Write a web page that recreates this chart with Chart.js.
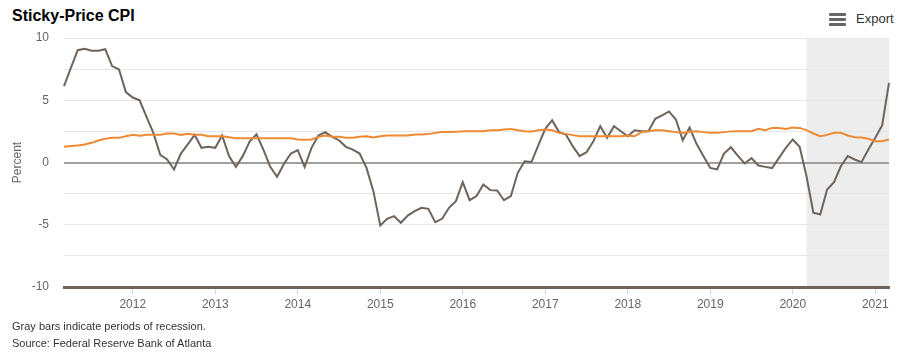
<!DOCTYPE html>
<html>
<head>
<meta charset="utf-8">
<script src="https://cdn.jsdelivr.net/npm/chart.js@4.4.1/dist/chart.umd.min.js"></script>
<style>
html,body{margin:0;padding:0;background:#fff;width:901px;height:357px;overflow:hidden;font-family:"Liberation Sans",Arial,sans-serif;}
#title{position:absolute;left:12px;top:8px;font-size:16px;line-height:16px;font-weight:bold;color:#000;white-space:nowrap;}
#export{position:absolute;left:829px;top:12px;height:14px;width:70px;}
#export .bar{position:absolute;left:0;width:17px;height:3px;background:#666;border-radius:1px;}
#export span{position:absolute;left:27px;top:0px;font-size:13px;line-height:14px;color:#333;}
#wrap{position:absolute;left:0;top:0;width:901px;height:320px;}
#foot{position:absolute;left:12px;top:318px;font-size:11px;line-height:17px;color:#333;white-space:nowrap;}
</style>
</head>
<body>
<div id="title">Sticky-Price CPI</div>
<div id="export"><div class="bar" style="top:1px"></div><div class="bar" style="top:6px"></div><div class="bar" style="top:11px"></div><span>Export</span></div>
<div id="wrap"><canvas id="c" width="901" height="320"></canvas></div>
<div id="foot">Gray bars indicate periods of recession.<br>Source: Federal Reserve Bank of Atlanta</div>
<script>
// Monthly categories, March 2011 through March 2021
const startYear = 2011, startMonth = 3, monthCount = 121;
const months = [];
for (let i = 0; i < monthCount; i++) {
  const m = startMonth - 1 + i;
  const y = startYear + Math.floor(m / 12);
  const mm = (m % 12) + 1;
  months.push(y + '-' + (mm < 10 ? '0' : '') + mm);
}

// Flexible-price CPI (dark line), percent
const flexible = [
  6.13, 7.6, 9.02, 9.13, 8.97, 8.97, 9.1, 7.74, 7.47, 5.65,
  5.22, 5.0, 3.67, 2.38, 0.62, 0.24, -0.56, 0.72, 1.45, 2.22,
  1.18, 1.26, 1.18, 2.17, 0.51, -0.35, 0.51, 1.69, 2.27, 1.04,
  -0.35, -1.15, -0.1, 0.72, 1.0, -0.36, 1.18, 2.17, 2.44, 2.06,
  1.79, 1.26, 1.04, 0.72, -0.43, -2.3, -5.06, -4.52, -4.31, -4.84,
  -4.26, -3.91, -3.64, -3.72, -4.79, -4.52, -3.64, -3.1, -1.58, -3.03,
  -2.7, -1.77, -2.22, -2.25, -3.03, -2.7, -0.83, 0.1, 0.04, 1.4,
  2.7, 3.4, 2.44, 2.25, 1.31, 0.51, 0.83, 1.71, 2.92, 1.98,
  2.92, 2.51, 2.11, 2.59, 2.51, 2.51, 3.51, 3.78, 4.1, 3.45,
  1.79, 2.8, 1.5, 0.53, -0.44, -0.56, 0.72, 1.22, 0.56, -0.08,
  0.35, -0.24, -0.35, -0.45, 0.37, 1.18, 1.85, 1.26, -1.1, -4.04,
  -4.18, -2.17, -1.58, -0.3, 0.51, 0.24, 0.03, 1.04, 1.98, 2.97,
  6.4
];

// Sticky-price CPI (orange line), percent
const sticky = [
  1.26, 1.33, 1.37, 1.45, 1.58, 1.77, 1.9, 1.98, 1.98, 2.11,
  2.22, 2.14, 2.22, 2.22, 2.22, 2.33, 2.33, 2.22, 2.3, 2.22,
  2.22, 2.11, 2.11, 2.11, 2.03, 1.95, 1.95, 1.95, 1.95, 1.95,
  1.95, 1.95, 1.95, 1.95, 1.84, 1.83, 1.85, 2.06, 2.17, 2.06,
  2.06, 1.98, 1.98, 2.06, 2.11, 2.01, 2.11, 2.17, 2.17, 2.17,
  2.17, 2.25, 2.25, 2.28, 2.38, 2.44, 2.44, 2.46, 2.51, 2.51,
  2.51, 2.51, 2.59, 2.59, 2.65, 2.7, 2.59, 2.51, 2.5, 2.59,
  2.65, 2.59, 2.38, 2.3, 2.2, 2.11, 2.11, 2.11, 2.11, 2.11,
  2.11, 2.11, 2.17, 2.11, 2.44, 2.51, 2.59, 2.59, 2.51, 2.44,
  2.38, 2.47, 2.5, 2.44, 2.38, 2.38, 2.44, 2.5, 2.51, 2.51,
  2.51, 2.7, 2.6, 2.78, 2.78, 2.7, 2.81, 2.78, 2.6, 2.33,
  2.11, 2.22, 2.38, 2.38, 2.17, 2.03, 2.0, 1.9, 1.71, 1.71,
  1.85
];

// Recession periods (start, end) as month categories
const recessions = [['2020-03', '2021-03']];

const yTicks = [-10, -5, 0, 5, 10];

const FONT = '"Liberation Sans", Arial, sans-serif';

const recessionPlugin = {
  id: 'recessionBands',
  beforeDraw(chart) {
    const {ctx, chartArea, scales} = chart;
    ctx.save();
    ctx.fillStyle = '#ededed';
    recessions.forEach(([s, e]) => {
      const x0 = scales.x.getPixelForValue(months.indexOf(s));
      const x1 = scales.x.getPixelForValue(months.indexOf(e));
      ctx.fillRect(x0, chartArea.top, x1 - x0, chartArea.bottom - chartArea.top);
    });
    ctx.restore();
  }
};

function isJan(i) { return months[i] && months[i].endsWith('-01'); }

new Chart(document.getElementById('c'), {
  type: 'line',
  data: {
    labels: months,
    datasets: [
      {label: 'Sticky-Price CPI', data: sticky, borderColor: '#ef8a34', borderWidth: 2, pointRadius: 0, tension: 0, order: 1},
      {label: 'Flexible-Price CPI', data: flexible, borderColor: '#6e645b', borderWidth: 2, pointRadius: 0, tension: 0, order: 2}
    ]
  },
  options: {
    responsive: false,
    animation: false,
    devicePixelRatio: 1,
    layout: {padding: {left: 0, right: 12, top: 38, bottom: 0}},
    plugins: {legend: {display: false}, tooltip: {enabled: false}, title: {display: false}},
    scales: {
      x: {
        type: 'category',
        offset: false,
        grid: {
          drawOnChartArea: false,
          drawTicks: true,
          tickLength: 7,
          color: c => isJan(c.index) ? '#ccd6eb' : 'rgba(0,0,0,0)',
          tickColor: c => isJan(c.index) ? '#ccd6eb' : 'rgba(0,0,0,0)',
          lineWidth: 1
        },
        border: {display: true, color: '#6e645b', width: 3},
        ticks: {
          autoSkip: false,
          maxRotation: 0,
          minRotation: 0,
          padding: 3,
          color: '#666',
          font: {size: 12, family: FONT},
          callback: function(v, i) { return isJan(i) ? months[i].slice(0, 4) : ''; }
        },
        afterFit: s => { s.height = 33; }
      },
      y: {
        min: -10,
        max: 10,
        ticks: {
          stepSize: 2.5,
          padding: 15,
          color: '#666',
          font: {size: 12, family: FONT},
          callback: v => yTicks.includes(v) ? String(v) : ''
        },
        grid: {
          drawTicks: false,
          color: c => (c.tick && c.tick.value === 0) ? '#a0a0a0' : '#e6e6e6',
          lineWidth: c => (c.tick && c.tick.value === 0) ? 2 : 1
        },
        border: {display: false},
        title: {display: true, text: 'Percent', color: '#666', font: {size: 12, family: FONT}, padding: {top: 10, bottom: 0}},
        afterFit: s => { s.width = 64; }
      }
    }
  },
  plugins: [recessionPlugin]
});
</script>
</body>
</html>
